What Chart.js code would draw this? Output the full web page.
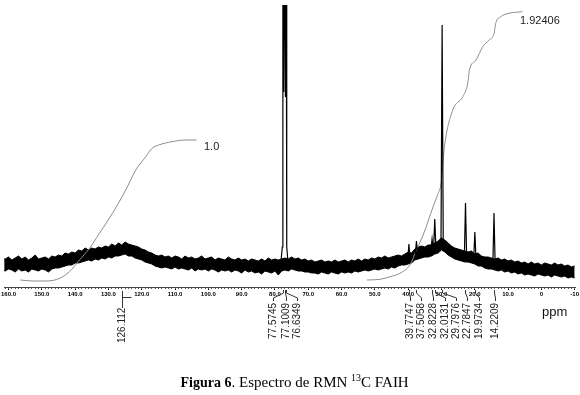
<!DOCTYPE html>
<html>
<head>
<meta charset="utf-8">
<script src="https://cdn.jsdelivr.net/npm/chart.js@4/dist/chart.umd.min.js"></script>
<style>
html,body{margin:0;padding:0;background:#fff;overflow:hidden}
canvas{display:block}
</style>
</head>
<body>
<canvas id="c" width="580" height="395"></canvas>
<script>
// ---------- DATA ----------
// chemical-shift axis (ppm), reversed as in NMR
const axisMaxPpm = 161.31;
const axisMinPpm = -10.12;
const tickStepMajor = 10;
const tickStepMinor = 1;

// noisy baseline band, sampled every 1 ppm from 162 down to -10 (intensity, a.u.)
const noiseStartPpm = 162;
const noiseStepPpm = 1;
const noiseUpper = [
  29,28,30,27,29,31,28,30,27,29,
  32,28,29,30,28,31,30,32,31,34,
  33,35,34,37,36,39,37,39,38,40,
  39,41,40,43,41,44,42,45,43,42,
  41,40,38,37,35,34,32,31,32,30,
  31,29,31,30,28,31,29,30,28,29,
  31,28,29,30,27,29,28,27,30,28,
  27,29,27,28,26,28,27,26,28,26,
  29,27,28,27,28,29,28,30,28,29,
  27,28,26,27,25,26,27,25,26,25,
  27,25,26,27,25,27,26,28,26,28,
  27,29,28,30,29,31,29,30,31,32,
  31,33,35,34,38,40,41,40,42,42,
  44,46,49,47,44,41,39,38,37,36,
  35,36,33,34,31,30,30,29,28,29,
  27,28,26,27,25,26,24,25,23,25,
  23,24,22,24,23,22,24,22,23,21,
  22,20,21
];
const noiseLower = [
  17,16,18,17,15,18,16,17,15,18,
  17,16,18,17,15,18,19,19,20,21,
  22,22,24,24,25,26,27,26,28,27,
  29,28,30,29,31,31,32,33,31,31,
  29,28,27,25,24,23,21,20,19,20,
  19,18,20,18,19,18,17,19,16,18,
  17,18,16,18,17,15,17,16,17,15,
  17,16,14,17,15,16,14,15,13,16,
  15,14,16,12,16,17,16,18,17,16,
  16,15,15,14,14,13,15,14,13,15,
  14,13,15,14,15,14,16,15,16,17,
  16,17,18,17,18,19,18,20,19,21,
  22,22,23,24,27,28,29,30,30,31,
  33,34,37,35,32,30,28,27,26,25,
  25,24,23,21,21,19,18,18,17,16,
  17,15,16,14,15,13,14,12,13,12,
  11,13,12,11,12,10,12,11,10,11,
  9,10,9
];

// CDCl3 triplet (off-scale)
const solventPpm = [78.3, 77.78, 77.62, 77.36, 77.10, 76.86, 76.63, 76.46, 76.0];
const solventInt = [22, 40, 400, 195, 400, 190, 400, 40, 22];

// sharp aliphatic peaks
const peakCenters = [39.77, 37.51, 32.82, 32.01, 29.80, 22.78, 19.97, 14.22];
const peakHeights = [43, 46, 48, 68, 262, 84, 55, 74];
const peakBases   = [28, 33, 38, 40, 47, 32, 29, 24];
const peakHalfWidth = 0.33;

// integral curves
const int1Ppm = [156.5,152.6,148.6,144.6,141.7,138.7,135.7,132.7,128.8,124.8,121.8,118.8,116.9,114.9,110.9,106.9,103.5];
const int1Val = [7,6,6,8.7,15.3,27,38.7,53.7,73.7,97,117,130.3,138.7,142,145.3,147,147];
const int2Ppm = [52.4,48.4,45.4,42.5,39.5,37.5,35.5,32.5,31.0,30.1,29.1,26.6,23.6,22.1,21.6,19.6,17.6,15.7,14.2,13.7,12.2,9.7,5.7];
const int2Val = [7,7.7,10.3,13.7,22,37,52,80.3,93.7,103.7,140.3,177,190.3,203.7,217,227,240.3,247,253.7,263.7,270.3,273.7,275.3];
const integralLabels = ['1.0', '1.92406'];

// peak picking labels
const peakLabels = ['126.112','77.5745','77.1009','76.6349','39.7747','37.5058','32.8228','32.0131','29.7976','22.7847','19.9734','14.2209'];

const axisUnit = 'ppm';
const captionParts = ['Figura 6', '. Espectro de RMN ', '13', 'C FAIH'];

// ---------- LAYOUT (pixels) ----------
const labelDx = [0, -10.4, 0, 10, 0.6, 4.5, 0.3, 9, 13, 1, 3, 0.8];

// ---------- BUILD ----------
const upperPts = noiseUpper.map((v, i) => ({x: noiseStartPpm - i * noiseStepPpm, y: v}));
const lowerPts = noiseLower.map((v, i) => ({x: noiseStartPpm - i * noiseStepPpm, y: v}));

const peakPts = [];
solventPpm.forEach((p, i) => peakPts.push({x: p, y: solventInt[i]}));
peakPts.push({x: 75.9, y: null});
peakCenters.forEach((c, i) => {
  peakPts.push({x: c + peakHalfWidth, y: peakBases[i]});
  peakPts.push({x: c, y: peakHeights[i]});
  peakPts.push({x: c - peakHalfWidth, y: peakBases[i]});
  peakPts.push({x: c - peakHalfWidth - 0.01, y: null});
});

const int1Pts = int1Ppm.map((p, i) => ({x: p, y: int1Val[i]}));
const int2Pts = int2Ppm.map((p, i) => ({x: p, y: int2Val[i]}));

function fmtTick(v) {
  if (v === 0) return '0';
  if (v < 0) return String(v);
  return v.toFixed(1);
}

const annot = {
  id: 'annot',
  afterDraw(chart) {
    const ctx = chart.ctx;
    const xs = chart.scales.x;
    const axisY = chart.chartArea.bottom;
    ctx.save();

    // peak labels and leaders
    ctx.strokeStyle = '#333';
    ctx.lineWidth = 1;
    ctx.fillStyle = '#222';
    ctx.font = '10px "Liberation Sans", Arial, sans-serif';
    peakLabels.forEach((t, i) => {
      const p = parseFloat(t);
      const px = Math.round(xs.getPixelForValue(p)) + 0.5;
      const lx = Math.round(px + labelDx[i]) + 0.5;
      ctx.beginPath();
      let textBottom;
      if (i === 0) {
        ctx.moveTo(lx, axisY + 4); ctx.lineTo(lx, axisY + 21);
        ctx.moveTo(lx, axisY + 10.5); ctx.lineTo(lx + 9, axisY + 10.5);
        textBottom = axisY + 56;
      } else {
        ctx.moveTo(px, axisY + 3); ctx.lineTo(px, axisY + 6);
        ctx.lineTo(lx, axisY + 11); ctx.lineTo(lx, axisY + 14);
        textBottom = axisY + 52;
      }
      ctx.stroke();
      ctx.save();
      ctx.translate(lx, textBottom);
      ctx.rotate(-Math.PI / 2);
      ctx.textAlign = 'left';
      ctx.textBaseline = 'middle';
      ctx.fillText(t, 0, 0);
      ctx.restore();
    });

    // integral values
    ctx.fillStyle = '#222';
    ctx.font = '11px "Liberation Sans", Arial, sans-serif';
    ctx.textAlign = 'left';
    ctx.textBaseline = 'alphabetic';
    ctx.fillText(integralLabels[0], 204, 150);
    ctx.fillText(integralLabels[1], 520, 24);

    // unit
    ctx.fillStyle = '#111';
    ctx.font = '13px "Liberation Sans", Arial, sans-serif';
    ctx.fillText(axisUnit, 542, 316);

    // caption
    const cy = 387;
    const fB = 'bold 14px "Liberation Serif", "Times New Roman", serif';
    const fN = '15px "Liberation Serif", "Times New Roman", serif';
    const fS = '10px "Liberation Serif", "Times New Roman", serif';
    ctx.fillStyle = '#000';
    ctx.font = fB; const wB = ctx.measureText(captionParts[0]).width;
    ctx.font = fN; const wDot = ctx.measureText('. ').width;
    let x = 239 - wB - wDot;
    ctx.font = fB; ctx.fillText(captionParts[0], x, cy); x += wB;
    ctx.font = fN; ctx.fillText(captionParts[1], x, cy); x += ctx.measureText(captionParts[1]).width;
    ctx.font = fS; ctx.fillText(captionParts[2], x, cy - 6); x += ctx.measureText(captionParts[2]).width;
    ctx.font = fN; ctx.fillText(captionParts[3], x, cy);

    ctx.restore();
  }
};

new Chart(document.getElementById('c'), {
  type: 'line',
  data: {
    datasets: [
      {label: 'peaks', data: peakPts, xAxisID: 'x', borderColor: '#000', borderWidth: 1.2, pointRadius: 0, spanGaps: false, fill: false, tension: 0},
      {label: 'integral 1', data: int1Pts, xAxisID: 'x', borderColor: '#8c8c8c', borderWidth: 1, pointRadius: 0, cubicInterpolationMode: 'monotone', fill: false},
      {label: 'integral 2', data: int2Pts, xAxisID: 'x', borderColor: '#8c8c8c', borderWidth: 1, pointRadius: 0, cubicInterpolationMode: 'monotone', fill: false},
      {label: 'noise lower', data: lowerPts, xAxisID: 'x', borderColor: '#000', borderWidth: 1, pointRadius: 0, fill: false, tension: 0},
      {label: 'noise upper', data: upperPts, xAxisID: 'x', borderColor: '#000', borderWidth: 1, pointRadius: 0, fill: '-1', backgroundColor: '#000', tension: 0}
    ]
  },
  options: {
    responsive: false,
    animation: false,
    devicePixelRatio: 1,
    layout: {autoPadding: false, padding: {left: 4, right: 0, top: 5, bottom: 96}},
    plugins: {legend: {display: false}, tooltip: {enabled: false}},
    scales: {
      x: {
        type: 'linear', position: 'bottom', reverse: true, weight: 1,
        min: axisMinPpm, max: axisMaxPpm,
        afterFit(s) { s.height = 12; },
        ticks: {
          stepSize: tickStepMajor, includeBounds: false, autoSkip: false,
          maxRotation: 0, minRotation: 0, padding: 1, color: '#000',
          font: {family: '"Liberation Sans", Arial, sans-serif', size: 6, weight: 'bold'},
          callback: (v) => fmtTick(v)
        },
        grid: {drawOnChartArea: false, drawTicks: true, tickLength: 3, color: '#000'},
        border: {display: true, color: '#444', width: 1}
      },
      x2: {
        type: 'linear', position: 'bottom', reverse: true, weight: 0,
        min: axisMinPpm, max: axisMaxPpm,
        afterFit(s) { s.height = 0; },
        ticks: {display: false, stepSize: tickStepMinor, includeBounds: false, autoSkip: false},
        grid: {drawOnChartArea: false, drawTicks: true, tickLength: 2, color: '#555'},
        border: {display: false}
      },
      y: {display: false, min: 0, max: 282}
    }
  },
  plugins: [annot]
});
</script>
</body>
</html>
